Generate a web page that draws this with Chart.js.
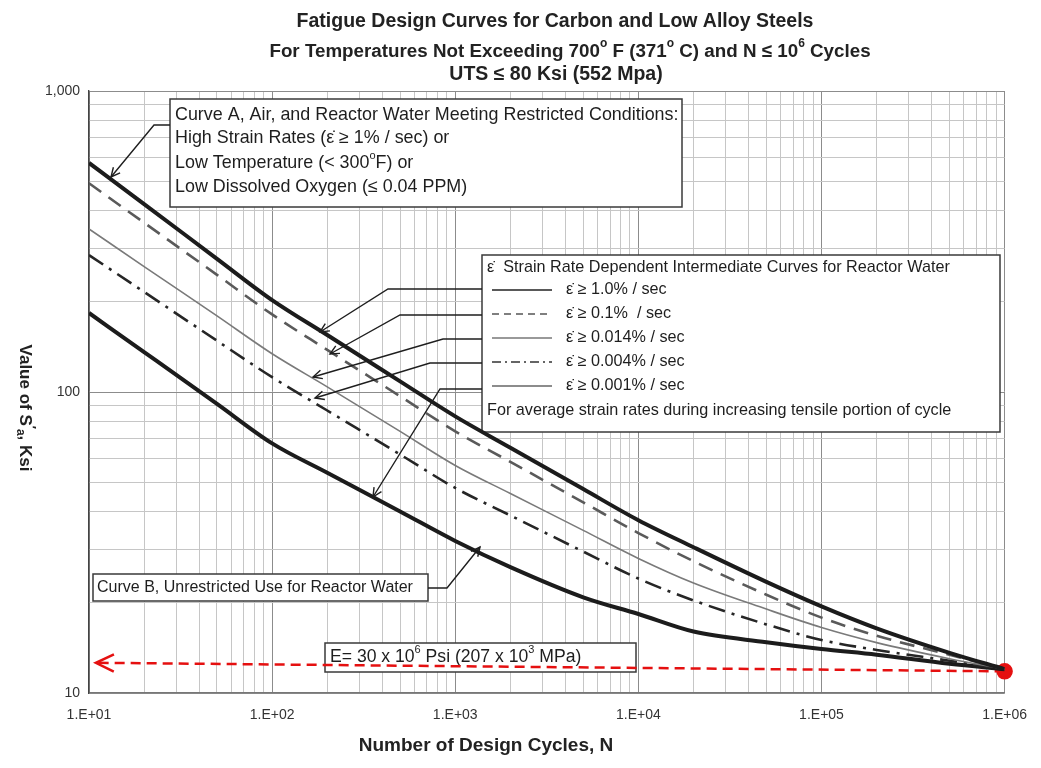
<!DOCTYPE html>
<html><head><meta charset="utf-8">
<script src="https://cdn.jsdelivr.net/npm/chart.js@4.4.1/dist/chart.umd.min.js"></script>
<style>html,body{margin:0;padding:0;background:#fff;}#wrap{width:1041px;height:768px;}</style>
</head><body><div id="wrap"><canvas id="c" width="1041" height="768"></canvas></div>
<script>
// ---- data ----
const cycles      = [10, 20, 50, 100, 200, 500, 1000, 2000, 5000, 1e4, 2e4, 5e4, 1e5, 2e5, 5e5, 1e6];
const curveA      = [577, 421, 277, 202, 154.6, 108.5, 83, 65.3, 47.6, 37.5, 30.5, 23.4, 19.4, 16.4, 13.6, 12];   // eps >= 1.0%/sec
const rate01      = [494, 365, 245, 181, 138, 96.8, 74, 58.6, 43, 34, 27.4, 21.2, 17.8, 15.5, 13.4, 12];         // eps >= 0.1%/sec
const rate0014    = [348, 261, 179, 134, 104, 74, 57, 46, 34.7, 28, 23.2, 19.0, 16.5, 14.7, 13.0, 12];           // eps >= 0.014%/sec
const rate0004    = [285, 215, 148, 112, 86.8, 62, 48, 38.9, 29.5, 24, 20.3, 16.9, 15.0, 13.9, 12.8, 12];        // eps >= 0.004%/sec
const curveB      = [183, 135.7, 91.3, 67.5, 53.9, 40.1, 32, 26.2, 20.8, 18.3, 16.0, 14.75, 14.0, 13.4, 12.5, 12]; // eps >= 0.001%/sec
const eArrowN     = [1e6, 10.9];
const eArrowS     = [11.8, 12.6];
const xTickValues = [10, 100, 1000, 1e4, 1e5, 1e6];
const xTickLabels = ['1.E+01', '1.E+02', '1.E+03', '1.E+04', '1.E+05', '1.E+06'];
const yTickValues = [10, 100, 1000];
const yTickLabels = ['10', '100', '1,000'];
const legendLabels = ['ε̇ ≥ 1.0% / sec', 'ε̇ ≥ 0.1%  / sec', 'ε̇ ≥ 0.014% / sec', 'ε̇ ≥ 0.004% / sec', 'ε̇ ≥ 0.001% / sec'];

const FONT = '"Liberation Sans", Arial, sans-serif';
const pts = (xs, ys) => xs.map((x, i) => ({x: x, y: ys[i]}));
const logTicks = (lo, hi) => { const t = []; for (let p = lo; p < hi; p *= 10) for (let m = 1; m < 10; m++) t.push(m * p); t.push(hi); return t; };
const isMajor = (v, arr) => arr.indexOf(v) >= 0;

const styles = [
  {data: curveA,   color: '#1c1c1c', width: 4,   dash: []},
  {data: rate01,   color: '#5a5a5a', width: 2.6, dash: [15, 9]},
  {data: rate0014, color: '#7a7a7a', width: 1.6, dash: []},
  {data: rate0004, color: '#262626', width: 2.6, dash: [17, 7, 3, 7]},
  {data: curveB,   color: '#1c1c1c', width: 4,   dash: []}
];
const names = ['Curve A', 'ε̇ ≥ 0.1% / sec', 'ε̇ ≥ 0.014% / sec', 'ε̇ ≥ 0.004% / sec', 'Curve B'];

const datasets = styles.map((s, i) => ({
  label: names[i], data: pts(cycles, s.data), borderColor: s.color, borderWidth: s.width,
  borderDash: s.dash, pointRadius: 0, cubicInterpolationMode: 'monotone', fill: false
}));
datasets.push({
  label: 'E', data: pts(eArrowN, eArrowS), borderColor: '#e51010', borderWidth: 2.5, clip: false,
  borderDash: [10, 6], pointRadius: [7, 0], pointBackgroundColor: '#e51010', pointBorderColor: '#e51010', fill: false
});

function rich(ctx, segs, x, y, align) {
  let w = 0;
  segs.forEach(s => { ctx.font = (s.bold ? 'bold ' : '') + s.size + 'px ' + FONT; s.w = ctx.measureText(s.t).width; w += s.w; });
  let cx = align === 'center' ? x - w / 2 : x;
  ctx.textAlign = 'left';
  segs.forEach(s => { ctx.font = (s.bold ? 'bold ' : '') + s.size + 'px ' + FONT; ctx.fillText(s.t, cx, y + (s.dy || 0)); cx += s.w; });
}
function arrowHead(ctx, x1, y1, x2, y2, len) {
  const a = Math.atan2(y2 - y1, x2 - x1);
  ctx.beginPath();
  ctx.moveTo(x2 - len * Math.cos(a - 0.45), y2 - len * Math.sin(a - 0.45));
  ctx.lineTo(x2, y2);
  ctx.lineTo(x2 - len * Math.cos(a + 0.45), y2 - len * Math.sin(a + 0.45));
  ctx.stroke();
}
function leader(ctx, p) {
  ctx.beginPath(); ctx.moveTo(p[0][0], p[0][1]);
  for (let i = 1; i < p.length; i++) ctx.lineTo(p[i][0], p[i][1]);
  ctx.stroke();
  const n = p.length;
  arrowHead(ctx, p[n - 2][0], p[n - 2][1], p[n - 1][0], p[n - 1][1], 10);
}
function box(ctx, x, y, w, h) {
  ctx.fillStyle = '#fff'; ctx.fillRect(x, y, w, h);
  ctx.strokeStyle = '#3a3a3a'; ctx.lineWidth = 1.5; ctx.strokeRect(x, y, w, h);
}

const deco = {
  id: 'deco',
  beforeDatasetsDraw(chart) {
    const ctx = chart.ctx;
    ctx.save();
    ctx.setLineDash([]);
    // Curve A box
    box(ctx, 170, 99, 512, 108);
    ctx.fillStyle = '#1e1e1e'; ctx.textBaseline = 'middle';
    ctx.font = '17.9px ' + FONT; ctx.textAlign = 'left';
    ctx.fillText('Curve A, Air, and Reactor Water Meeting Restricted Conditions:', 175, 115);
    ctx.fillText('High Strain Rates (ε̇ ≥ 1% / sec) or', 175, 138);
    rich(ctx, [{t: 'Low Temperature (< 300', size: 17.9}, {t: 'o', size: 11, dy: -7}, {t: 'F) or', size: 17.9}], 175, 163, 'left');
    ctx.fillText('Low Dissolved Oxygen (≤ 0.04 PPM)', 175, 187);
    // legend box
    box(ctx, 482, 255, 518, 177);
    ctx.fillStyle = '#1e1e1e'; ctx.font = '16.2px ' + FONT;
    ctx.fillText('ε̇  Strain Rate Dependent Intermediate Curves for Reactor Water', 487, 268);
    const rowY = [290, 314, 338, 362, 386];
    const sampleStyles = [
      {c: '#222', w: 1.5, d: []}, {c: '#555', w: 1.3, d: [7, 5]}, {c: '#777', w: 1.3, d: []},
      {c: '#333', w: 1.3, d: [9, 4, 2, 4]}, {c: '#666', w: 1.3, d: []}
    ];
    rowY.forEach((y, i) => {
      const s = sampleStyles[i];
      ctx.strokeStyle = s.c; ctx.lineWidth = s.w; ctx.setLineDash(s.d);
      ctx.beginPath(); ctx.moveTo(492, y); ctx.lineTo(552, y); ctx.stroke();
      ctx.setLineDash([]);
      ctx.fillStyle = '#1e1e1e'; ctx.font = '16.2px ' + FONT;
      ctx.fillText(legendLabels[i], 566, y);
    });
    ctx.fillText('For average strain rates during increasing tensile portion of cycle', 487, 411);
    // Curve B box
    box(ctx, 93, 574, 335, 27);
    ctx.fillStyle = '#1e1e1e'; ctx.font = '16px ' + FONT;
    ctx.fillText('Curve B, Unrestricted Use for Reactor Water', 97, 588);
    // E box
    box(ctx, 325, 643, 311, 29);
    ctx.fillStyle = '#1e1e1e';
    rich(ctx, [{t: 'E= 30 x 10', size: 17.6}, {t: '6', size: 11, dy: -7}, {t: ' Psi (207 x 10', size: 17.6}, {t: '3', size: 11, dy: -7}, {t: ' MPa)', size: 17.6}], 330, 657, 'left');
    ctx.restore();
  },
  afterDraw(chart) {
    const ctx = chart.ctx;
    ctx.save();
    ctx.setLineDash([]);
    ctx.strokeStyle = '#1e1e1e'; ctx.lineWidth = 1.4;
    leader(ctx, [[170, 125], [154, 125], [111, 177]]);
    leader(ctx, [[482, 289], [388, 289], [320, 332]]);
    leader(ctx, [[482, 315], [400, 315], [330, 354]]);
    leader(ctx, [[482, 339], [443, 339], [313, 377]]);
    leader(ctx, [[482, 363], [430, 363], [315, 398]]);
    leader(ctx, [[482, 389], [440, 389], [373, 497]]);
    leader(ctx, [[428, 588], [447, 588], [480, 547]]);
    const xs = chart.scales.x, ys = chart.scales.y;
    const tx = xs.getPixelForValue(eArrowN[1]), ty = ys.getPixelForValue(eArrowS[1]);
    const bx = xs.getPixelForValue(eArrowN[0]), by = ys.getPixelForValue(eArrowS[0]);
    ctx.strokeStyle = '#e51010'; ctx.lineWidth = 2.5;
    arrowHead(ctx, bx, by, tx, ty, 20);
    // titles
    ctx.fillStyle = '#222'; ctx.textBaseline = 'middle';
    const T = 19.5, S = 12;
    rich(ctx, [{t: 'Fatigue Design Curves for Carbon and Low Alloy Steels', size: T, bold: true}], 555, 22, 'center');
    rich(ctx, [{t: 'For Temperatures Not Exceeding 700', size: 18.8, bold: true}, {t: 'o', size: S, bold: true, dy: -8},
               {t: ' F (371', size: 18.8, bold: true}, {t: 'o', size: S, bold: true, dy: -8},
               {t: ' C) and N ≤ 10', size: 18.8, bold: true}, {t: '6', size: S, bold: true, dy: -8},
               {t: ' Cycles', size: 18.8, bold: true}], 570, 52, 'center');
    rich(ctx, [{t: 'UTS ≤ 80 Ksi (552 Mpa)', size: T, bold: true}], 556, 75, 'center');
    rich(ctx, [{t: 'Number of Design Cycles, N', size: 19, bold: true}], 486, 746, 'center');
    ctx.save();
    ctx.translate(25, 408); ctx.rotate(Math.PI / 2);
    rich(ctx, [{t: 'Value of S', size: 17, bold: true}, {t: '′', size: 13, bold: true, dy: -6}, {t: 'a', size: 12, bold: true, dy: 5}, {t: ', Ksi', size: 17, bold: true}], 0, 0, 'center');
    ctx.restore();
    ctx.restore();
  }
};

new Chart(document.getElementById('c'), {
  type: 'line',
  data: {datasets: datasets},
  options: {
    responsive: false, animation: false, devicePixelRatio: 1,
    layout: {padding: {top: 91, right: 36, left: 0, bottom: 0}},
    plugins: {legend: {display: false}, tooltip: {enabled: false}, title: {display: false}},
    scales: {
      x: {
        type: 'logarithmic', min: 10, max: 1e6,
        afterBuildTicks: s => { s.ticks = logTicks(10, 1e6).map(v => ({value: v, major: isMajor(v, xTickValues)})); },
        afterFit: s => { s.height = 75; },
        ticks: {autoSkip: false, maxRotation: 0, minRotation: 0, padding: 14, color: '#333', font: {family: FONT, size: 14},
          callback: v => { const i = xTickValues.indexOf(v); return i >= 0 ? xTickLabels[i] : ''; }},
        grid: {color: c => (c.tick && isMajor(c.tick.value, xTickValues)) ? '#8c8c8c' : '#c6c6c6', lineWidth: 1, tickLength: 0},
        border: {color: '#777', width: 1.2}
      },
      y: {
        type: 'logarithmic', min: 10, max: 1000,
        afterBuildTicks: s => { s.ticks = logTicks(10, 1000).map(v => ({value: v, major: isMajor(v, yTickValues)})); },
        afterFit: s => { s.width = 89; },
        ticks: {autoSkip: false, padding: 9, color: '#333', font: {family: FONT, size: 14},
          callback: v => { const i = yTickValues.indexOf(v); return i >= 0 ? yTickLabels[i] : ''; }},
        grid: {color: c => (c.tick && isMajor(c.tick.value, yTickValues)) ? '#8c8c8c' : '#c6c6c6', lineWidth: 1, tickLength: 0},
        border: {color: '#444', width: 1.4}
      }
    }
  },
  plugins: [deco]
});
</script>
</body></html>
